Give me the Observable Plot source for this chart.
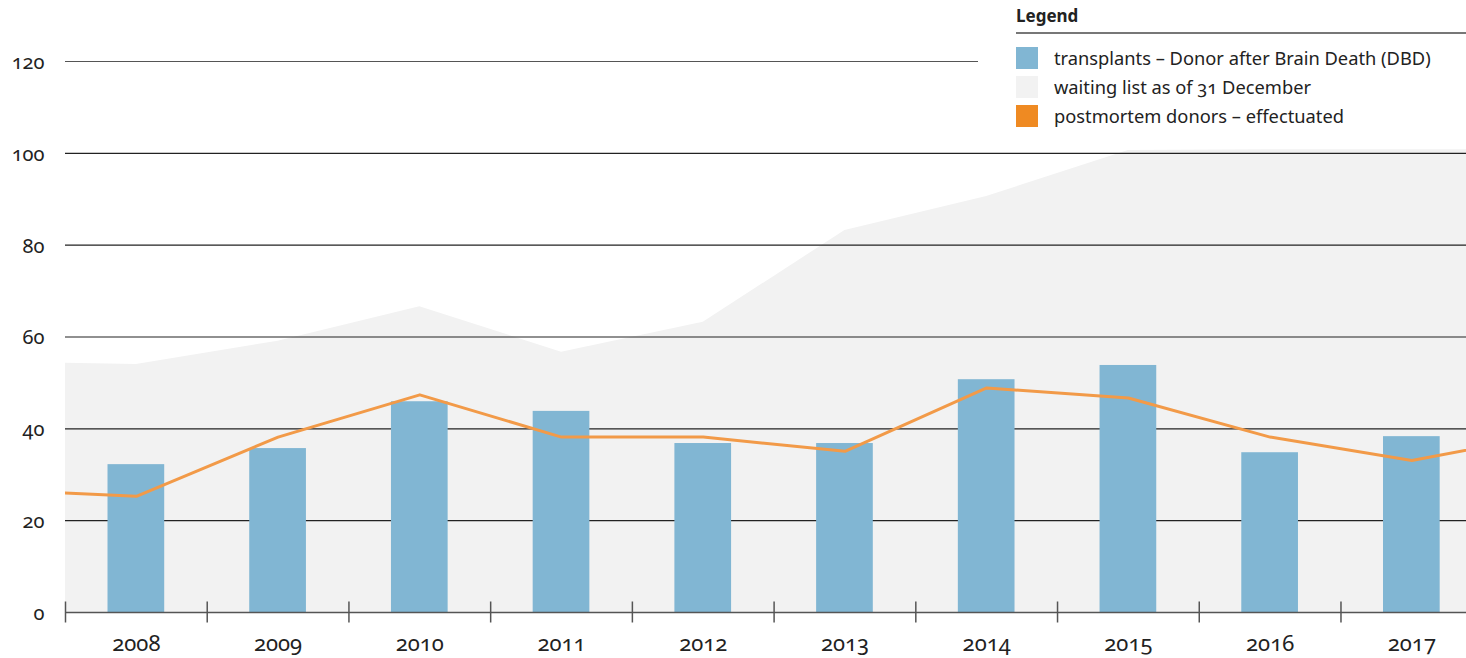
<!DOCTYPE html>
<html>
<head>
<meta charset="utf-8">
<script src="https://cdn.jsdelivr.net/npm/d3@7"></script>
<script src="https://cdn.jsdelivr.net/npm/@observablehq/plot@0.6"></script>
<style>
  html, body { margin: 0; padding: 0; background: #fff; }
  body { font-family: "Noto Sans", sans-serif; font-variant-numeric: oldstyle-nums; font-feature-settings: "onum" 1; }
  #wrap { position: relative; width: 1466px; height: 658px; overflow: hidden; }
  #chart svg { display: block; }
  #chart svg text { font-variant-numeric: oldstyle-nums; font-feature-settings: "onum" 1; }
  #legend { position: absolute; left: 1016px; top: 0; width: 450px; color: #222; }
  #legend .title { font-weight: 700; font-size: 17px; height: 32px; line-height: 32px; border-bottom: 2px solid #777; }
  #legend .row { display: flex; align-items: center; height: 29px; font-size: 18.3px; }
  #legend .sw { width: 22px; height: 22px; margin-right: 16px; flex: none; }
  #legend .items { padding-top: 9px; }
</style>
</head>
<body>
<div id="wrap">
  <div id="chart"></div>
  <div id="legend"></div>
</div>
<script>
// Categories
const years = [2008, 2009, 2010, 2011, 2012, 2013, 2014, 2015, 2016, 2017];
// Bars: transplants – Donor after Brain Death (DBD)
const transplantsDBD = [32.2, 35.7, 45.9, 43.8, 36.8, 36.8, 50.7, 53.8, 34.8, 38.3];
// Area and line continue beyond the first and last year (clipped at the frame)
const lineYears = [2007, 2008, 2009, 2010, 2011, 2012, 2013, 2014, 2015, 2016, 2017, 2018];
const waitingList = [54.6, 54.0, 59.1, 66.6, 56.7, 63.2, 83.2, 90.6, 100.6, 100.8, 100.8, 100.8];
const donorsEffectuated = [26.7, 25.3, 38.2, 47.4, 38.2, 38.2, 35.1, 48.9, 46.7, 38.2, 33.1, 39.0];
// Axis ticks
const yTicks = [0, 20, 40, 60, 80, 100];
const yTopTick = [120];
const bandEdges = [2007.5, 2008.5, 2009.5, 2010.5, 2011.5, 2012.5, 2013.5, 2014.5, 2015.5, 2016.5];

const legendItems = [
  {label: "transplants – Donor after Brain Death (DBD)", color: "#81b6d3"},
  {label: "waiting list as of 31 December", color: "#f2f2f2"},
  {label: "postmortem donors – effectuated", color: "#ef8a22"}
];

const bars = years.map((y, i) => ({year: y, value: transplantsDBD[i]}));
const waits = lineYears.map((y, i) => ({year: y, value: waitingList[i]}));
const donors = lineYears.map((y, i) => ({year: y, value: donorsEffectuated[i]}));

const W = 1466, H = 658, ML = 65, MR = 0;
const band = 141.72;
const xEnd = 2007.5 + (W - ML - MR) / band;
const gridEnd120 = 2007.5 + (978 - ML) / band;

const plot = Plot.plot({
  width: W,
  height: H,
  marginLeft: ML,
  marginRight: MR,
  marginTop: 61,
  marginBottom: 46,
  style: {fontFamily: "Noto Sans, sans-serif", fontSize: "20px", color: "#222", background: "#fff", fontVariant: "oldstyle-nums"},
  x: {type: "linear", domain: [2007.5, xEnd], label: null},
  y: {domain: [0, 120], label: null},
  marks: [
    Plot.areaY(waits, {x: "year", y: "value", fill: "#f2f2f2", clip: true}),
    Plot.ruleY(yTicks.filter(d => d > 0), {stroke: "#222", strokeWidth: 1.2}),
    Plot.ruleY(yTopTick, {x1: 2007.5, x2: gridEnd120, stroke: "#555", strokeWidth: 1.2}),
    Plot.rectY(bars, {x1: d => d.year - 0.2, x2: d => d.year + 0.2, y: "value", fill: "#81b6d3"}),
    Plot.lineY(donors, {x: "year", y: "value", stroke: "#f29a48", strokeWidth: 3, clip: true}),
    Plot.ruleY([0], {stroke: "#555", strokeWidth: 1.5}),
    Plot.ruleX(bandEdges, {y1: 0, y2: 0, insetTop: -10.5, insetBottom: -10.5, stroke: "#555", strokeWidth: 1.5}),
    Plot.axisY(yTicks.concat(yTopTick), {tickSize: 0, tickPadding: 21, dy: 1, tickFormat: d => String(d), fill: "#222", label: null}),
    Plot.axisX(years, {tickSize: 0, tickPadding: 23, fontSize: 22, tickFormat: d => String(d), fill: "#222", label: null})
  ]
});
document.getElementById("chart").appendChild(plot);

const lg = document.getElementById("legend");
const t = document.createElement("div");
t.className = "title";
t.textContent = "Legend";
lg.appendChild(t);
const items = document.createElement("div");
items.className = "items";
legendItems.forEach(it => {
  const r = document.createElement("div");
  r.className = "row";
  const s = document.createElement("span");
  s.className = "sw";
  s.style.background = it.color;
  const l = document.createElement("span");
  l.textContent = it.label;
  r.appendChild(s); r.appendChild(l);
  items.appendChild(r);
});
lg.appendChild(items);
</script>
</body>
</html>
